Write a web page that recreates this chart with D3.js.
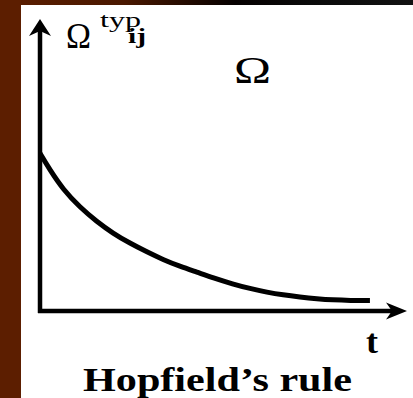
<!DOCTYPE html>
<html>
<head>
<meta charset="utf-8">
<script src="https://cdn.jsdelivr.net/npm/d3@7"></script>
<style>
  html, body { margin: 0; padding: 0; background: #fff; }
  svg { display: block; }
</style>
</head>
<body>
<svg id="chart" width="413" height="398"></svg>
<script>
// Decay of the typical weight Ω_ij over time (Hopfield's rule)
const timeValues   = [0, 2.7, 6.3, 10.9, 15.5, 19.9, 24.5, 29.2, 33.5, 38.1, 42.8, 47.1, 52.6, 57.2, 61.9, 66.2, 70.8, 75.5, 79.8, 84.5, 89.9];
const omegaValues  = [54, 48.3, 41.6, 35.5, 30.6, 26.6, 23.2, 20.2, 17.6, 15.3, 13.3, 11.4, 9.2, 7.7, 6.4, 5.5, 4.8, 4.2, 3.8, 3.6, 3.6];
const axisDomainT  = [0, 100];
const axisDomainV  = [0, 100];
const yAxisLabel   = ["Ω", "typ", "ij"];
const xAxisLabel   = "t";
const panelLabel   = "Ω";
const captionText  = "Hopfield’s rule";

const W = 413, H = 398;
const svg = d3.select("#chart");

// Frame: brown strip on the left, brown-to-black band across the top
const defs = svg.append("defs");
const grad = defs.append("linearGradient").attr("id", "topBand")
  .attr("x1", "0").attr("x2", "1").attr("y1", "0").attr("y2", "0");
grad.append("stop").attr("offset", "0").attr("stop-color", "#5c1e00");
grad.append("stop").attr("offset", "0.3").attr("stop-color", "#4a1800");
grad.append("stop").attr("offset", "0.57").attr("stop-color", "#050000");
grad.append("stop").attr("offset", "0.75").attr("stop-color", "#0a0a0a");
grad.append("stop").attr("offset", "1").attr("stop-color", "#121212");

svg.append("rect").attr("x", 0).attr("y", 0).attr("width", W).attr("height", H).attr("fill", "#ffffff");
svg.append("rect").attr("x", 0).attr("y", 0).attr("width", W).attr("height", 5).attr("fill", "url(#topBand)");
svg.append("rect").attr("x", 0).attr("y", 0).attr("width", 21).attr("height", H).attr("fill", "#5c1e00");

// Scales
const x = d3.scaleLinear().domain(axisDomainT).range([40, 407]);
const y = d3.scaleLinear().domain(axisDomainV).range([311, 19]);

const g = svg.append("g");

// Axes with arrowheads
const x0 = x(0), y0 = y(0);
const xTip = x(axisDomainT[1]), yTip = y(axisDomainV[1]);

g.append("line")
  .attr("x1", x0).attr("y1", y0 + 2)
  .attr("x2", x0).attr("y2", yTip + 12)
  .attr("stroke", "#000").attr("stroke-width", 4.5);
g.append("line")
  .attr("x1", x0 - 2).attr("y1", y0)
  .attr("x2", xTip - 14).attr("y2", y0)
  .attr("stroke", "#000").attr("stroke-width", 4.5);

// y arrowhead
g.append("path")
  .attr("d", `M${x0},${yTip} L${x0 + 11},${yTip + 17} L${x0},${yTip + 12} L${x0 - 11},${yTip + 17} Z`)
  .attr("fill", "#000");
// x arrowhead
g.append("path")
  .attr("d", `M${xTip},${y0} L${xTip - 21},${y0 - 8.5} L${xTip - 15},${y0} L${xTip - 21},${y0 + 8.5} Z`)
  .attr("fill", "#000");

// Decay curve
const pts = timeValues.map((t, i) => [t, omegaValues[i]]);
const line = d3.line()
  .x(d => x(d[0]))
  .y(d => y(d[1]))
  .curve(d3.curveBasis);
g.append("path")
  .datum(pts)
  .attr("d", line)
  .attr("fill", "none")
  .attr("stroke", "#000")
  .attr("stroke-width", 5);

// Labels
const serif = "'Liberation Serif', 'Times New Roman', serif";

g.append("text").text(yAxisLabel[0])
  .attr("x", 66).attr("y", 48)
  .attr("font-family", serif).attr("font-size", 35)
  .attr("textLength", 25).attr("lengthAdjust", "spacingAndGlyphs");
g.append("text").text(yAxisLabel[1])
  .attr("x", 100).attr("y", 27)
  .attr("font-family", serif).attr("font-size", 22)
  .attr("textLength", 41).attr("lengthAdjust", "spacingAndGlyphs");
g.append("text").text(yAxisLabel[2])
  .attr("x", 128).attr("y", 43)
  .attr("font-family", serif).attr("font-size", 21).attr("font-weight", "bold")
  .attr("textLength", 18).attr("lengthAdjust", "spacingAndGlyphs");

g.append("text").text(panelLabel)
  .attr("x", 234).attr("y", 83)
  .attr("font-family", serif).attr("font-size", 37)
  .attr("textLength", 37).attr("lengthAdjust", "spacingAndGlyphs");

g.append("text").text(xAxisLabel)
  .attr("x", 366).attr("y", 353)
  .attr("font-family", serif).attr("font-size", 34).attr("font-weight", "bold")
  .attr("textLength", 12).attr("lengthAdjust", "spacingAndGlyphs");

g.append("text").text(captionText)
  .attr("x", 83).attr("y", 391)
  .attr("font-family", serif).attr("font-size", 34).attr("font-weight", "bold")
  .attr("textLength", 269).attr("lengthAdjust", "spacingAndGlyphs");
</script>
</body>
</html>
